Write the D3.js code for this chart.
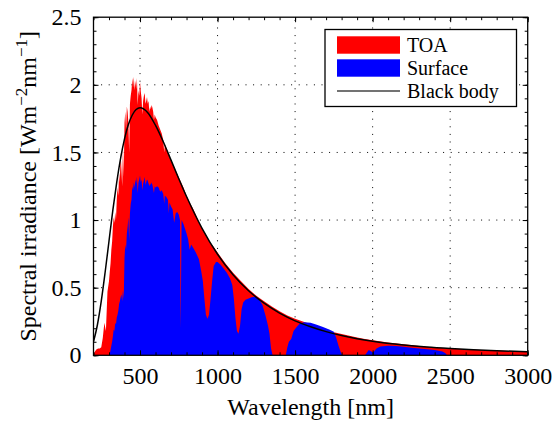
<!DOCTYPE html>
<html>
<head>
<meta charset="utf-8">
<script src="https://cdn.jsdelivr.net/npm/d3@7"></script>
</head>
<body style="margin:0;background:#fff">
<div id="chart"></div>
<script>
// ---------- DATA ----------
const toaWavelength = [
  200,210,220,230,240,250,260,270,280,290,300,
  305,310,315,320,325,330,335,340,345,350,355,360,365,370,375,380,385,390,395,
  400,405,410,415,420,425,430,435,440,445,450,455,460,465,470,475,480,485,490,495,
  500,505,510,515,520,525,530,535,540,545,550,555,560,565,570,575,580,585,590,595,
  600,610,620,630,640,650,656,660,670,680,690,700,
  720,740,760,780,800,820,840,860,880,900,925,950,975,1000,
  1050,1100,1150,1200,1250,1300,1350,1400,1450,1500,1550,1600,1650,1700,1750,1800,
  1850,1900,1950,2000,2100,2200,2300,2400,2500,2600,2700,2800,2900,3000
];
const toaIrradiance = [
  0.01,0.03,0.045,0.05,0.05,0.06,0.13,0.24,0.18,0.47,0.55,
  0.62,0.68,0.78,0.84,0.95,1.02,0.98,1.06,1.00,1.15,1.24,1.18,1.35,1.28,1.50,1.38,1.25,1.55,1.32,
  1.72,1.80,1.66,1.84,1.80,1.72,1.50,1.86,1.92,1.96,2.05,1.98,2.06,1.96,2.03,1.97,2.05,1.85,1.96,1.92,
  2.02,1.95,1.90,1.78,1.88,1.92,1.94,1.86,1.88,1.91,1.86,1.88,1.80,1.84,1.82,1.85,1.83,1.80,1.74,1.78,
  1.76,1.74,1.70,1.67,1.64,1.59,1.50,1.56,1.53,1.50,1.47,1.44,
  1.39,1.34,1.29,1.24,1.18,1.13,1.09,1.04,0.98,0.94,0.89,0.84,0.80,0.76,
  0.68,0.61,0.55,0.49,0.44,0.40,0.36,0.325,0.295,0.27,0.25,0.23,0.207,0.187,0.17,0.157,
  0.145,0.132,0.121,0.112,0.094,0.081,0.069,0.058,0.05,0.044,0.039,0.035,0.031,0.028
];

const surfaceWavelength = [
  300,305,310,315,320,325,330,335,340,345,350,355,360,365,370,375,380,385,390,395,
  400,405,410,415,420,425,430,435,440,445,450,455,460,465,470,475,480,485,490,495,
  500,505,510,515,520,525,530,535,540,545,550,555,560,565,570,575,580,585,590,595,
  600,610,620,630,640,650,656,660,670,680,686,690,700,710,720,730,740,750,758,761,764,768,
  780,800,810,820,830,840,860,880,895,905,915,925,935,945,955,965,975,990,
  1000,1020,1040,1060,1080,1095,1105,1115,1125,1135,1145,1155,1165,1180,
  1200,1220,1250,1270,1290,1310,1325,1335,1345,1355,1440,1450,1460,1475,1490,
  1510,1530,1560,1600,1640,1680,1720,1750,1765,1780,1795,1805,1950,1960,1975,1990,
  2000,2010,2025,2050,2100,2150,2200,2250,2300,2350,2400,2450,2470,2480,3000
];
const surfaceIrradiance = [
  0,0.01,0.04,0.07,0.10,0.14,0.19,0.18,0.24,0.23,0.28,0.30,0.33,0.38,0.40,0.43,0.45,0.40,0.48,0.42,
  0.72,0.82,0.78,0.90,0.95,1.02,0.85,1.05,1.12,1.15,1.25,1.22,1.28,1.24,1.30,1.27,1.32,1.20,1.28,1.30,
  1.33,1.28,1.30,1.22,1.27,1.29,1.32,1.26,1.28,1.30,1.29,1.27,1.25,1.27,1.26,1.28,1.26,1.23,1.20,1.25,
  1.24,1.25,1.24,1.21,1.22,1.19,1.12,1.18,1.17,1.15,1.05,1.13,1.10,1.08,0.98,1.05,1.06,1.04,1.00,0.20,0.45,1.00,
  0.97,0.90,0.86,0.78,0.82,0.80,0.76,0.71,0.62,0.55,0.42,0.30,0.27,0.30,0.42,0.55,0.66,0.69,
  0.69,0.67,0.64,0.61,0.57,0.52,0.42,0.28,0.18,0.16,0.22,0.34,0.39,0.41,
  0.42,0.43,0.435,0.41,0.37,0.29,0.22,0.16,0.05,0,0,0.06,0.10,0.12,0.18,
  0.21,0.235,0.245,0.24,0.225,0.21,0.19,0.175,0.13,0.07,0.02,0,0,0.015,0.04,0.03,
  0.02,0.03,0.05,0.065,0.07,0.068,0.064,0.055,0.05,0.045,0.04,0.028,0.015,0,0
];

const blackBodyWavelength = [
  200,225,250,275,300,325,350,375,400,425,450,475,500,550,600,650,700,750,800,900,
  1000,1100,1200,1300,1400,1500,1600,1700,1800,1900,2000,2200,2350,2500,2650,2800,3000
];
const blackBodyIrradiance = [
  0.101,0.224,0.40,0.614,0.845,1.075,1.28,1.458,1.60,1.706,1.777,1.817,1.83,1.794,1.70,1.579,1.443,1.306,1.174,0.939,
  0.747,0.596,0.477,0.385,0.312,0.255,0.211,0.175,0.146,0.123,0.104,0.076,0.061,0.050,0.041,0.034,0.026
];

const xMajorTicks = [500,1000,1500,2000,2500,3000];
const xMinorTicks = d3.range(200, 3001, 100);
const yMajorTicks = [0,0.5,1,1.5,2,2.5];
const yMinorTicks = d3.range(0, 26).map(i => i / 10);
const yTickLabels = ["0","0.5","1","1.5","2","2.5"];

const legendItems = [
  { label: "TOA", kind: "area", color: "#ff0000" },
  { label: "Surface", kind: "area", color: "#0000ff" },
  { label: "Black body", kind: "line", color: "#000000" }
];

// ---------- LAYOUT ----------
const FONT = '"Liberation Serif"';
const W = 553, H = 421;
const plot = { left: 93.5, top: 17.2, right: 527.7, bottom: 355.3 };

const svg = d3.select("#chart").append("svg")
  .attr("width", W).attr("height", H);

const x = d3.scaleLinear().domain([200, 3000]).range([plot.left, plot.right]);
const y = d3.scaleLinear().domain([0, 2.5]).range([plot.bottom, plot.top]);

// grid (dotted, behind data)
const grid = svg.append("g").attr("stroke", "#000").attr("stroke-width", 1)
  .attr("stroke-dasharray", "1 6.6");
xMajorTicks.filter(t => t < 3000).forEach(t => {
  grid.append("line").attr("x1", x(t)).attr("x2", x(t))
    .attr("y1", plot.bottom).attr("y2", plot.top);
});
yMajorTicks.filter(t => t > 0 && t < 2.5).forEach(t => {
  grid.append("line").attr("x1", plot.left).attr("x2", plot.right)
    .attr("y1", y(t)).attr("y2", y(t));
});

// clip
svg.append("clipPath").attr("id", "clip").append("rect")
  .attr("x", plot.left).attr("y", plot.top)
  .attr("width", plot.right - plot.left).attr("height", plot.bottom - plot.top);

const dataG = svg.append("g").attr("clip-path", "url(#clip)");

const toa = toaWavelength.map((w, i) => [w, toaIrradiance[i]]);
const surf = surfaceWavelength.map((w, i) => [w, surfaceIrradiance[i]]);
const bb = blackBodyWavelength.map((w, i) => [w, blackBodyIrradiance[i]]);

const area = d3.area().x(d => x(d[0])).y0(y(0)).y1(d => y(d[1]));
dataG.append("path").datum(toa).attr("d", area).attr("fill", "#ff0000");
dataG.append("path").datum(surf).attr("d", area).attr("fill", "#0000ff");

const line = d3.line().x(d => x(d[0])).y(d => y(d[1])).curve(d3.curveMonotoneX);
dataG.append("path").datum(bb).attr("d", line)
  .attr("fill", "none").attr("stroke", "#000").attr("stroke-width", 1.5);

// axes box and inward ticks
const axG = svg.append("g");
axG.append("rect").attr("x", plot.left).attr("y", plot.top)
  .attr("width", plot.right - plot.left).attr("height", plot.bottom - plot.top)
  .attr("fill", "none").attr("stroke", "#000").attr("stroke-width", 1.3);

const xAxisBottom = d3.axisBottom(x).tickValues(xMajorTicks).tickSize(-5).tickPadding(12)
  .tickFormat(d3.format("d"));
const xAxisTop = d3.axisTop(x).tickValues(xMajorTicks).tickSize(-5).tickFormat("");
const xMinorBottom = d3.axisBottom(x).tickValues(xMinorTicks).tickSize(-3).tickFormat("");
const xMinorTop = d3.axisTop(x).tickValues(xMinorTicks).tickSize(-3).tickFormat("");
const yAxisLeft = d3.axisLeft(y).tickValues(yMajorTicks).tickSize(-5).tickPadding(12)
  .tickFormat((d, i) => yTickLabels[i]);
const yAxisRight = d3.axisRight(y).tickValues(yMajorTicks).tickSize(-5).tickFormat("");
const yMinorLeft = d3.axisLeft(y).tickValues(yMinorTicks).tickSize(-3).tickFormat("");
const yMinorRight = d3.axisRight(y).tickValues(yMinorTicks).tickSize(-3).tickFormat("");

function styleAxis(g) {
  g.select(".domain").remove();
  g.selectAll(".tick line").attr("stroke", "#000").attr("stroke-width", 1);
  g.selectAll(".tick text")
    .style("font-family", FONT).style("font-size", "24px").attr("fill", "#000");
}
axG.append("g").attr("transform", `translate(0,${plot.bottom})`).call(xMinorBottom).call(styleAxis);
axG.append("g").attr("transform", `translate(0,${plot.top})`).call(xMinorTop).call(styleAxis);
axG.append("g").attr("transform", `translate(${plot.left},0)`).call(yMinorLeft).call(styleAxis);
axG.append("g").attr("transform", `translate(${plot.right},0)`).call(yMinorRight).call(styleAxis);
axG.append("g").attr("transform", `translate(0,${plot.top})`).call(xAxisTop).call(styleAxis);
axG.append("g").attr("transform", `translate(${plot.right},0)`).call(yAxisRight).call(styleAxis);
const xb = axG.append("g").attr("transform", `translate(0,${plot.bottom})`).call(xAxisBottom).call(styleAxis);
xb.selectAll(".tick text").attr("dy", "0.71em");
axG.append("g").attr("transform", `translate(${plot.left},0)`).call(yAxisLeft).call(styleAxis);

// axis titles
svg.append("text")
  .attr("x", (plot.left + plot.right) / 2).attr("y", 415)
  .attr("text-anchor", "middle")
  .style("font-family", FONT).style("font-size", "24px")
  .text("Wavelength [nm]");

const yt = svg.append("text")
  .attr("transform", `translate(36,${(plot.top + plot.bottom) / 2}) rotate(-90)`)
  .attr("text-anchor", "middle")
  .style("font-family", FONT).style("font-size", "24px");
yt.append("tspan").text("Spectral irradiance [Wm");
yt.append("tspan").attr("dy", -9).style("font-size", "17px").text("\u22122");
yt.append("tspan").attr("dy", 9).text("nm");
yt.append("tspan").attr("dy", -9).style("font-size", "17px").text("\u22121");
yt.append("tspan").attr("dy", 9).text("]");

// legend
const lg = svg.append("g");
lg.append("rect").attr("x", 325).attr("y", 29.5).attr("width", 191.5).attr("height", 77)
  .attr("fill", "#fff").attr("stroke", "#000").attr("stroke-width", 1.3);
legendItems.forEach((it, i) => {
  const cy = 45 + i * 23;
  if (it.kind === "area") {
    lg.append("rect").attr("x", 337).attr("y", cy - 8.7).attr("width", 63).attr("height", 17.4)
      .attr("fill", it.color);
  } else {
    lg.append("line").attr("x1", 337).attr("x2", 400).attr("y1", cy).attr("y2", cy)
      .attr("stroke", "#444").attr("stroke-width", 1.3);
  }
  lg.append("text").attr("x", 407).attr("y", cy + 6.5)
    .style("font-family", FONT).style("font-size", "20px").text(it.label);
});
</script>
</body>
</html>
